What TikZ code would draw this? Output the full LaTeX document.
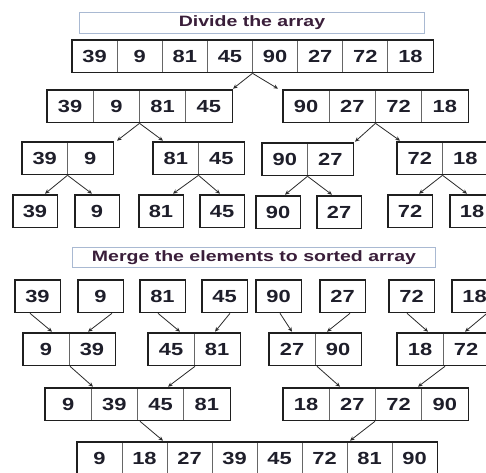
\documentclass[tikz,border=0pt]{standalone}
\usepackage{fontspec}
\setmainfont{Liberation Sans}
\usetikzlibrary{arrows.meta,fit}
\definecolor{txt}{HTML}{1E1E2A}
\definecolor{ttl}{HTML}{3A1E3A}
\definecolor{ttlbox}{HTML}{A9B9D2}
\definecolor{lin}{HTML}{2A2A2A}
\tikzset{
 cell/.style={draw=black!60, line width=0.8pt, minimum height=32pt, inner sep=0pt, text=txt,
   text height=12.6pt, text depth=0pt,
   font=\fontsize{17.5}{18}\selectfont\bfseries},
 frame/.style={draw=black!88, line width=1.8pt, inner sep=0pt},
 title/.style={draw=ttlbox, line width=1pt, inner sep=0pt, text=ttl, anchor=north west,
   font=\fontsize{15}{16}\selectfont\bfseries},
 con/.style={draw=lin, line width=0.8pt, -{Stealth[length=4.5pt,width=4pt]}},
}
\newcommand\arrbox[6]{%
  \foreach \v [count=\i] in {#6}{
    \node[cell, minimum width=#5pt] (#1-\i) at ({#3+(\i-0.5)*#5},{#4+16}) {\scalebox{1.25}[1]{\v}};
  }
  \node[frame, fit=(#1-1)(#1-#2)] (#1) {};
}
\begin{document}
\begin{tikzpicture}[x=1pt,y=-1pt]
\useasboundingbox (0,0) rectangle (486,472);
\fill[white] (0,0) rectangle (486,472);
\clip (0,0) rectangle (486,472);
% divide
\node[title, minimum width=345pt, minimum height=21pt] (t1) at (79,12) {\scalebox{1.3}[1]{Divide the array}};
\arrbox{d1}{8}{72}{40}{45.125}{39,9,81,45,90,27,72,18}
\arrbox{d2a}{4}{47}{90}{46.25}{39,9,81,45}
\arrbox{d2b}{4}{283}{90}{46.25}{90,27,72,18}
\arrbox{d3a}{2}{22}{142}{45.5}{39,9}
\arrbox{d3b}{2}{153}{142}{45.5}{81,45}
\arrbox{d3c}{2}{262}{143}{45.5}{90,27}
\arrbox{d3d}{2}{397}{142}{45.5}{72,18}
\arrbox{d4a}{1}{13}{195}{44}{39}
\arrbox{d4b}{1}{75}{195}{44}{9}
\arrbox{d4c}{1}{139}{195}{44}{81}
\arrbox{d4d}{1}{200}{195}{44}{45}
\arrbox{d4e}{1}{256}{196}{44}{90}
\arrbox{d4f}{1}{317}{196}{44}{27}
\arrbox{d4g}{1}{388}{195}{44}{72}
\arrbox{d4h}{1}{450}{195}{44}{18}
\draw[con] (d1.south) -- (233,0 |- d2a.north);
\draw[con] (d1.south) -- (278,0 |- d2b.north);
\draw[con] (d2a.south) -- (117,0 |- d3a.north);
\draw[con] (d2a.south) -- (163,0 |- d3b.north);
\draw[con] (d2b.south) -- (355,0 |- d3c.north);
\draw[con] (d2b.south) -- (400,0 |- d3d.north);
\draw[con] (d3a.south) -- (45,0 |- d4a.north);
\draw[con] (d3a.south) -- (92,0 |- d4b.north);
\draw[con] (d3b.south) -- (173,0 |- d4c.north);
\draw[con] (d3b.south) -- (220,0 |- d4d.north);
\draw[con] (d3c.south) -- (285,0 |- d4e.north);
\draw[con] (d3c.south) -- (332,0 |- d4f.north);
\draw[con] (d3d.south) -- (419,0 |- d4g.north);
\draw[con] (d3d.south) -- (467,0 |- d4h.north);
% merge
\node[title, minimum width=363pt, minimum height=20pt] (t2) at (72,247) {\scalebox{1.3}[1]{Merge the elements to sorted array}};
\arrbox{m1a}{1}{15}{280}{45}{39}
\arrbox{m1b}{1}{78}{280}{45}{9}
\arrbox{m1c}{1}{140}{280}{45}{81}
\arrbox{m1d}{1}{202}{280}{45}{45}
\arrbox{m1e}{1}{256}{280}{45}{90}
\arrbox{m1f}{1}{320}{280}{45}{27}
\arrbox{m1g}{1}{389}{280}{45}{72}
\arrbox{m1h}{1}{452}{280}{45}{18}
\arrbox{m2a}{2}{23}{333}{46}{9,39}
\arrbox{m2b}{2}{148}{333}{46}{45,81}
\arrbox{m2c}{2}{269}{333}{46}{27,90}
\arrbox{m2d}{2}{397}{333}{46}{18,72}
\arrbox{m3a}{4}{45}{388}{46.25}{9,39,45,81}
\arrbox{m3b}{4}{283}{388}{46.25}{18,27,72,90}
\arrbox{f}{8}{77}{442}{45}{9,18,27,39,45,72,81,90}
\draw[con] (30,0 |- m1a.south) -- (52,0 |- m2a.north);
\draw[con] (112,0 |- m1b.south) -- (88,0 |- m2a.north);
\draw[con] (158,0 |- m1c.south) -- (180,0 |- m2b.north);
\draw[con] (230,0 |- m1d.south) -- (215,0 |- m2b.north);
\draw[con] (280,0 |- m1e.south) -- (292,0 |- m2c.north);
\draw[con] (350,0 |- m1f.south) -- (327,0 |- m2c.north);
\draw[con] (407,0 |- m1g.south) -- (428,0 |- m2d.north);
\draw[con] (487,0 |- m1h.south) -- (465,0 |- m2d.north);
\draw[con] (70,0 |- m2a.south) -- (93,0 |- m3a.north);
\draw[con] (195,0 |- m2b.south) -- (168,0 |- m3a.north);
\draw[con] (317,0 |- m2c.south) -- (340,0 |- m3b.north);
\draw[con] (445,0 |- m2d.south) -- (418,0 |- m3b.north);
\draw[con] (140,0 |- m3a.south) -- (163,0 |- f.north);
\draw[con] (375,0 |- m3b.south) -- (350,0 |- f.north);
\end{tikzpicture}
\end{document}
